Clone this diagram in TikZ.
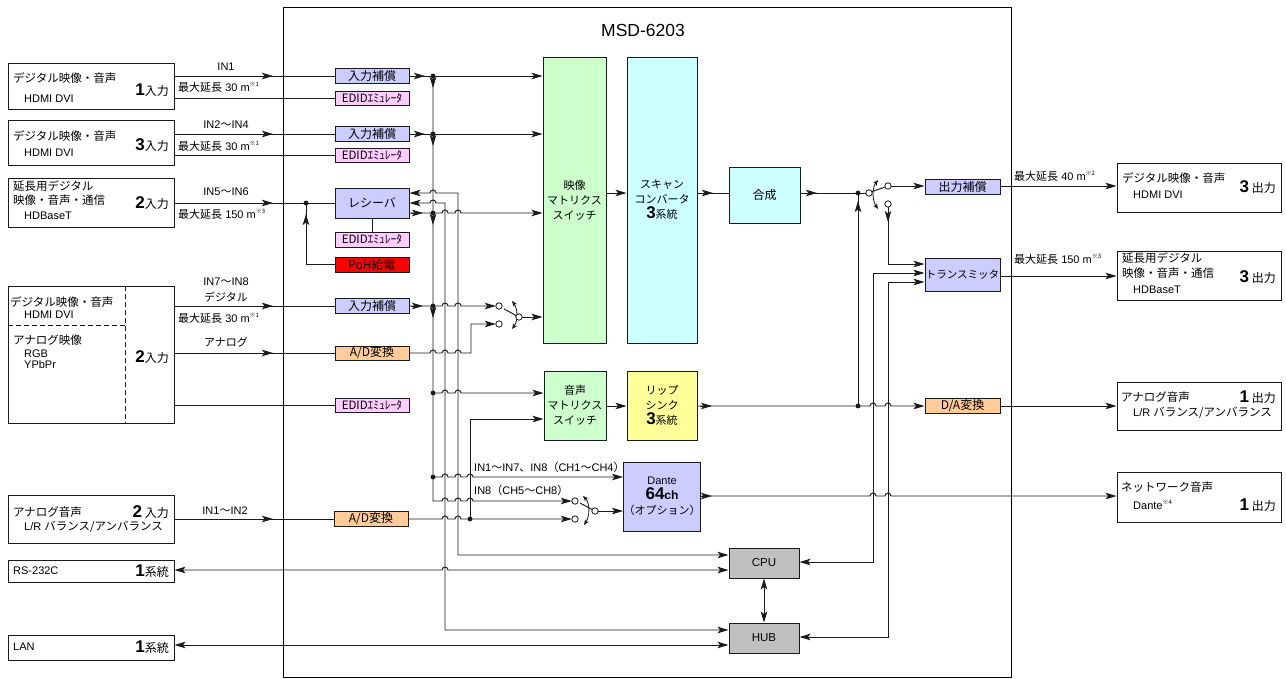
\documentclass[tikz,border=0pt]{standalone}
\usepackage{fontspec}
\setmainfont{Liberation Sans}
\newfontfamily\jp{Noto Sans CJK JP}
\usetikzlibrary{arrows.meta}
\definecolor{lav}{HTML}{CCCCFF}
\definecolor{pnk}{HTML}{FFCCFF}
\definecolor{org}{HTML}{FFCC99}
\definecolor{grn}{HTML}{CCFFCC}
\definecolor{cyn}{HTML}{CCFFFF}
\definecolor{ylw}{HTML}{FFFF99}
\definecolor{gry}{HTML}{C0C0C0}
\definecolor{lnc}{HTML}{1A1A1A}
\newcommand{\fs}[1]{\fontsize{#1}{#1}\selectfont}
\newcommand{\fsl}[2]{\fontsize{#1}{#2}\selectfont}
\newcommand{\J}[1]{{\jp #1}}
\newcommand{\bnum}[1]{{\rmfamily\bfseries\fs{17}#1}}
\newcommand{\nt}[1]{\raisebox{0.9ex}{\fontsize{6}{6}\selectfont\jp ※#1}}
\newcommand{\hp}[2]{-- (#1-3,#2) arc[start angle=180,end angle=360,radius=3]}
\newcommand{\tipR}[2]{\draw[arr] (#1-12,#2) -- (#1,#2);}
\newcommand{\tipD}[2]{\draw[arr] (#1,#2-12) -- (#1,#2);}
\newcommand{\tipU}[2]{\draw[arr] (#1,#2+12) -- (#1,#2);}
\newcommand{\jdot}[2]{\fill[lnc] (#1,#2) circle[radius=2.4];}
\newcommand{\jcirc}[2]{\draw[lnc,fill=white,line width=0.8pt] (#1,#2) circle[radius=3.2];}
\tikzset{
  ln/.style={draw=lnc, line width=0.95pt},
  arr/.style={ln, -{Stealth[length=11pt,width=6.5pt,inset=2.5pt]}},
  barr/.style={ln, {Stealth[length=11pt,width=6.5pt,inset=2.5pt]}-{Stealth[length=11pt,width=6.5pt,inset=2.5pt]}},
  swarr/.style={ln, line width=0.8pt, {Stealth[length=5.5pt,width=4.5pt]}-{Stealth[length=5.5pt,width=4.5pt]}},
  bx/.style={draw=lnc, line width=0.95pt, inner sep=0pt, rectangle},
  cb/.style={bx, minimum width=74, minimum height=15, font=\jp\fs{12}},
  big/.style={bx, align=center, font=\jp\fsl{11}{15}},
  txt/.style={inner sep=0pt, anchor=west},
  rtxt/.style={inner sep=0pt, anchor=east},
}
\begin{document}
\begin{tikzpicture}[x=1pt,y=-1pt]
\useasboundingbox (0,0) rectangle (1286,678);
\fill[white] (0,0) rectangle (1286,678);
% frame
\node[bx, draw=black, minimum width=728, minimum height=670] (F) at (647,342) {};
\node[font=\fs{17.5}] (T) at (643,30) {MSD-6203};

% left boxes
\node[bx, minimum width=166, minimum height=46] (L1) at (91,86) {};
\node[bx, minimum width=166, minimum height=45] (L2) at (91,142.5) {};
\node[bx, minimum width=166, minimum height=49] (L3) at (91,202.5) {};
\node[bx, minimum width=166, minimum height=137] (L4) at (91,354.5) {};
\node[bx, minimum width=166, minimum height=48] (L5) at (91,519) {};
\node[bx, minimum width=166, minimum height=22] (L6) at (91,571) {};
\node[bx, minimum width=166, minimum height=25] (L7) at (91,647.5) {};
\draw[ln, dash pattern=on 5pt off 3pt] (125,286) -- (125,423);
\draw[ln, dash pattern=on 5pt off 3pt] (8,325) -- (125,325);

\node[txt] at (13,78) {\J{\fs{11.5}デジタル映像・音声}};
\node[txt] at (24,98.5) {\fs{11}HDMI DVI};
\node[rtxt] at (169,90) {\bnum{1}\J{\fs{12}入力}};
\node[txt] at (13,136) {\J{\fs{11.5}デジタル映像・音声}};
\node[txt] at (24,152.5) {\fs{11}HDMI DVI};
\node[rtxt] at (169,145) {\bnum{3}\J{\fs{12}入力}};
\node[txt] at (13,186) {\J{\fs{11.5}延長用デジタル}};
\node[txt] at (13,200) {\J{\fs{11.5}映像・音声・通信}};
\node[txt] at (24,216) {\fs{11}HDBaseT};
\node[rtxt] at (169,203) {\bnum{2}\J{\fs{12}入力}};
\node[txt] at (10,302) {\J{\fs{11.5}デジタル映像・音声}};
\node[txt] at (24,315) {\fs{11}HDMI DVI};
\node[txt] at (13,340) {\J{\fs{11.5}アナログ映像}};
\node[txt] at (24,353.5) {\fs{11}RGB};
\node[txt] at (24,365) {\fs{11}YPbPr};
\node[rtxt] at (169,357.5) {\bnum{2}\J{\fs{12}入力}};
\node[txt] at (13,512) {\J{\fs{11.5}アナログ音声}};
\node[rtxt] at (169,512) {\bnum{2}\J{\fs{12} 入力}};
\node[txt] at (24,527) {\fs{11}L/R \J{\fs{11.5}バランス/アンバランス}};
\node[txt] at (13,571) {\fs{11}RS-232C};
\node[rtxt] at (169,571) {\bnum{1}\J{\fs{12}系統}};
\node[txt] at (13,647) {\fs{11}LAN};
\node[rtxt] at (169,647) {\bnum{1}\J{\fs{12}系統}};

% line labels left
\node[font=\fs{11}] at (226,67) {IN1};
\node[txt,font=\fs{11}] at (178,87) {\J{最大延長} 30 m\nt{1}};
\node[font=\fs{11}] at (226,125) {IN2\J{～}IN4};
\node[txt,font=\fs{11}] at (178,146) {\J{最大延長} 30 m\nt{1}};
\node[font=\fs{11}] at (226,192) {IN5\J{～}IN6};
\node[txt,font=\fs{11}] at (178,214) {\J{最大延長} 150 m\nt{3}};
\node[font=\fs{11}] at (226,282) {IN7\J{～}IN8};
\node[font=\jp\fs{11}] at (226,297) {デジタル};
\node[txt,font=\fs{11}] at (178,318) {\J{最大延長} 30 m\nt{1}};
\node[font=\jp\fs{11}] at (226,342) {アナログ};
\node[font=\fs{11}] at (225,511) {IN1\J{～}IN2};

% center small boxes
\node[cb, fill=lav] (C1) at (372,76) {入力補償};
\node[cb, fill=pnk, minimum height=14, font=\jp\fs{11.5}] (E1) at (372,98) {EDIDｴﾐｭﾚｰﾀ};
\node[cb, fill=lav] (C2) at (372,134) {入力補償};
\node[cb, fill=pnk, minimum height=14, font=\jp\fs{11.5}] (E2) at (372,155) {EDIDｴﾐｭﾚｰﾀ};
\node[cb, fill=lav, minimum height=30] (RX) at (372,203) {レシーバ};
\node[cb, fill=pnk, font=\jp\fs{11.5}] (E3) at (372,239.5) {EDIDｴﾐｭﾚｰﾀ};
\node[cb, fill=red] (PoH) at (372,264.5) {PoH給電};
\node[cb, fill=lav] (C3) at (372,306) {入力補償};
\node[cb, fill=org, minimum height=14] (AD1) at (372,353) {A/D変換};
\node[cb, fill=pnk, minimum height=14, font=\jp\fs{11.5}] (E4) at (372,405) {EDIDｴﾐｭﾚｰﾀ};
\node[cb, fill=org] (AD2) at (371,519) {A/D変換};

% big blocks
\node[big, fill=grn, minimum width=63, minimum height=286] (VM) at (574.5,200) {映像\\マトリクス\\スイッチ};
\node[big, fill=cyn, minimum width=70, minimum height=286] (SC) at (662,200) {スキャン\\コンバータ\\\bnum{3}系統};
\node[big, fill=cyn, minimum width=71, minimum height=56, font=\jp\fs{12}] (MIX) at (764.5,195) {合成};
\node[big, fill=grn, minimum width=62, minimum height=69] (AM) at (575,405.5) {音声\\マトリクス\\スイッチ};
\node[big, fill=ylw, minimum width=70, minimum height=69] (LS) at (662,405.5) {リップ\\シンク\\\bnum{3}系統};
\node[big, fill=lav, minimum width=70, minimum height=69] (Dante) at (662,496.5) {{\rmfamily\fs{11}Dante}\\\bnum{64}{\rmfamily\bfseries\fs{12}ch}\\（オプション）};
\node[bx, fill=gry, minimum width=70, minimum height=30, font=\fs{11.5}] (CPU) at (764,563) {CPU};
\node[bx, fill=gry, minimum width=70, minimum height=30, font=\fs{11.5}] (HUB) at (764,638) {HUB};
\node[cb, fill=lav, minimum width=75] (OC) at (962.5,186.5) {出力補償};
\node[cb, fill=lav, minimum width=75, minimum height=33, font=\jp\fs{10.5}] (TX) at (962.5,274.5) {トランスミッタ};
\node[cb, fill=org, minimum width=75] (DA) at (962.5,405.5) {D/A変換};

% right boxes
\node[bx, minimum width=164, minimum height=49] (R1) at (1199,187.5) {};
\node[bx, minimum width=164, minimum height=49] (R2) at (1199,275.5) {};
\node[bx, minimum width=164, minimum height=48] (R3) at (1199,406) {};
\node[bx, minimum width=164, minimum height=50] (R4) at (1199,497) {};
\node[txt] at (1122,178) {\J{\fs{11.5}デジタル映像・音声}};
\node[txt] at (1133,195) {\fs{11}HDMI DVI};
\node[rtxt] at (1276,187) {\bnum{3}\J{\fs{12} 出力}};
\node[txt] at (1122,258) {\J{\fs{11.5}延長用デジタル}};
\node[txt] at (1122,273) {\J{\fs{11.5}映像・音声・通信}};
\node[txt] at (1133,290) {\fs{11}HDBaseT};
\node[rtxt] at (1276,277) {\bnum{3}\J{\fs{12} 出力}};
\node[txt] at (1121,397) {\J{\fs{11.5}アナログ音声}};
\node[rtxt] at (1276,397) {\bnum{1}\J{\fs{12} 出力}};
\node[txt] at (1133,413) {\fs{11}L/R \J{\fs{11.5}バランス/アンバランス}};
\node[txt] at (1121,487) {\J{\fs{11.5}ネットワーク音声}};
\node[txt] at (1133,505) {\fs{11}Dante\nt{4}};
\node[rtxt] at (1276,505) {\bnum{1}\J{\fs{12} 出力}};
\node[txt,font=\fs{11}] at (1014,176) {\J{最大延長} 40 m\nt{2}};
\node[txt,font=\fs{11}] at (1014,259) {\J{最大延長} 150 m\nt{3}};
\node[txt,font=\fs{11}] at (474,467) {IN1\J{～}IN7\J{、}IN8\J{（}CH1\J{～}CH4\J{）}};
\node[txt,font=\fs{11}] at (474,490) {IN8\J{（}CH5\J{～}CH8\J{）}};

% left input connectors
\draw[ln] (L1.east |- 0,76) -- (C1.west); \tipR{273}{76}
\draw[ln] (L1.east |- 0,98) -- (E1.west);
\draw[ln] (L2.east |- 0,134) -- (C2.west); \tipR{273}{134}
\draw[ln] (L2.east |- 0,155) -- (E2.west);
\draw[ln] (L3.east |- 0,203) -- (RX.west); \tipR{273}{203}
\jdot{306}{203}
\draw[ln] (PoH.west) -| (306,203); \tipU{306}{214}
\draw[ln] (RX.south) -- (E3.north);
\draw[ln] (L4.east |- 0,306) -- (C3.west); \tipR{273}{306}
\draw[ln] (L4.east |- 0,353) -- (AD1.west); \tipR{273}{353}
\draw[ln] (L4.east |- 0,405) -- (E4.west);
\draw[ln] (L5.east |- 0,519) -- (AD2.west); \tipR{273}{519}
\draw[barr] (L6.east |- 0,570) \hp{445}{570} -- (CPU.west |- 0,570);
\draw[barr] (L7.east |- 0,645) -- (HUB.west |- 0,645);

% video paths
\draw[arr] (C1.east) -- (VM.west |- C1.east); \tipR{425}{76} \jdot{433}{76}
\draw[arr] (C2.east) -- (VM.west |- C2.east); \tipR{425}{134} \jdot{433}{134}
\draw[arr] (RX.east |- 0,213) \hp{445}{213} \hp{458}{213} -- (VM.west |- 0,213); \tipR{423}{213} \jdot{433}{213}
\draw[arr] (C3.east) \hp{445}{306} \hp{458}{306} -- (495.8,306); \tipR{423}{306} \jdot{433}{306}
\draw[arr] (AD1.east) \hp{433}{353} \hp{445}{353} \hp{458}{353} -- (471,353) -- (471,324) -- (495.8,324);
\draw[ln] (516.3,315.6) -- (504,309);
\draw[swarr] (512,301) .. controls (518,309) and (518,321) .. (512,329);
\jcirc{499}{306} \jcirc{499}{324} \jcirc{519}{317}
\draw[arr] (522.2,317) -- (VM.west |- 0,317);

% audio bus
\draw[arr] (433,76) -- (433,501) \hp{445}{501} \hp{458}{501} \hp{470}{501} -- (571.8,501);
\tipD{433}{88} \tipD{433}{146} \tipD{433}{225} \tipD{433}{318}
\jdot{433}{393}
\draw[arr] (433,393) \hp{445}{393} \hp{458}{393} -- (AM.west |- 0,393);
\jdot{433}{477}
\draw[arr] (433,477) \hp{445}{477} \hp{458}{477} \hp{470}{477} -- (Dante.west |- 0,477);
\draw[arr] (AD2.east |- 0,519) \hp{445}{519} \hp{458}{519} -- (571.8,519);
\jdot{470}{519}
\draw[arr] (470,519) -- (470,419) -- (AM.west |- 0,419);
\draw[ln] (592.3,509.6) -- (580,503);
\draw[swarr] (583,496) .. controls (590,503) and (590,516) .. (584,525);
\jcirc{575}{501} \jcirc{575}{519} \jcirc{595}{511}
\draw[arr] (598.2,511) -- (Dante.west |- 0,511);

% receiver control/network
\draw[barr] (RX.east |- 0,193) \hp{433}{193} -- (458,193) -- (458,555) -- (CPU.west |- 0,555);
\draw[barr] (RX.east |- 0,203) \hp{433}{203} -- (445,203) -- (445,630) -- (HUB.west |- 0,630);

% output video
\draw[arr] (VM.east |- 0,193) -- (SC.west |- 0,193);
\draw[ln] (SC.east |- 0,193) -- (MIX.west |- 0,193); \tipR{713}{193}
\draw[ln] (MIX.east |- 0,193) -- (865.8,193); \tipR{817}{193}
\draw[ln] (858,406) -- (858,193); \tipU{858}{201}
\jdot{858}{193}
\draw[ln] (871.8,191.6) -- (884.6,187.2);
\draw[swarr] (878,180) .. controls (872,188) and (872,200) .. (878,209);
\jcirc{869}{193} \jcirc{888}{186} \jcirc{888}{204}
\draw[arr] (891.2,186) -- (OC.west |- 0,186);
\draw[arr] (OC.east |- 0,186) -- (R1.west |- 0,186);
\draw[arr] (888,207.2) -- (888,264) -- (TX.west |- 0,264); \tipD{888}{222}
\draw[arr] (TX.east |- 0,276) -- (R2.west |- 0,276);
\draw[barr] (TX.west |- 0,273) -- (873,273) -- (873,562) -- (CPU.east |- 0,562);
\draw[barr] (TX.west |- 0,282) -- (888,282) -- (888,637) -- (HUB.east |- 0,637);
\draw[barr] (CPU.south) -- (HUB.north);

% output audio
\draw[arr] (AM.east |- 0,406) -- (LS.west |- 0,406);
\draw[arr] (LS.east |- 0,406) \hp{873}{406} \hp{888}{406} -- (DA.west |- 0,406); \tipR{712}{406}
\jdot{858}{406}
\draw[arr] (DA.east |- 0,406) -- (R3.west |- 0,406);
\draw[arr] (Dante.east |- 0,496) \hp{873}{496} \hp{888}{496} -- (R4.west |- 0,496); \tipR{712}{496}
\end{tikzpicture}
\end{document}
